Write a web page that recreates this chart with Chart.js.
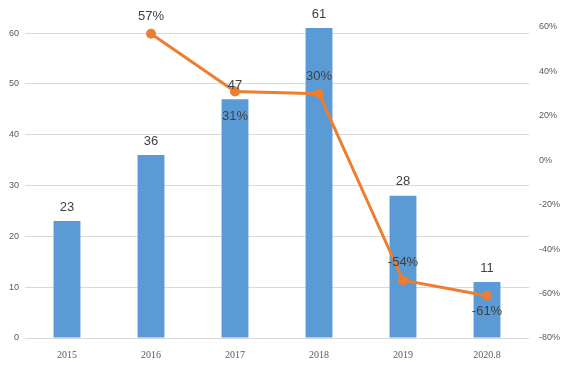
<!DOCTYPE html>
<html>
<head>
<meta charset="utf-8">
<script src="https://cdn.jsdelivr.net/npm/chart.js@4/dist/chart.umd.min.js"></script>
<style>
  html, body { margin: 0; padding: 0; background: #fff; }
  #wrap { width: 567px; height: 365px; }
</style>
</head>
<body>
<div id="wrap"><canvas id="c" width="567" height="365"></canvas></div>
<script>
const years = ['2015', '2016', '2017', '2018', '2019', '2020.8']
const counts = [23, 36, 47, 61, 28, 11]
const growth = [null, 57, 31, 30, -54, -61]
const countTicks = [0, 10, 20, 30, 40, 50, 60]

// vertical offset of each growth label from its point (negative = above)
const growthLabelDy = [0, -17, 25, -17, -18, 16]

const labelFont = '13px "Liberation Sans", Arial, sans-serif'
const labelColor = '#404040'

// draws value labels for bars and line points
const valueLabels = {
  id: 'valueLabels',
  afterDatasetsDraw(chart) {
    const ctx = chart.ctx
    ctx.save()
    ctx.font = labelFont
    ctx.fillStyle = labelColor
    ctx.textAlign = 'center'
    ctx.textBaseline = 'middle'
    chart.getDatasetMeta(1).data.forEach((bar, i) => {
      ctx.fillText(String(counts[i]), bar.x, bar.y - 14)
    })
    chart.getDatasetMeta(0).data.forEach((pt, i) => {
      if (growth[i] === null) return
      ctx.fillText(growth[i] + '%', pt.x, pt.y + growthLabelDy[i])
    })
    ctx.restore()
  }
}

new Chart(document.getElementById('c'), {
  data: {
    labels: years,
    datasets: [
      {
        type: 'line',
        label: 'growth',
        data: growth,
        yAxisID: 'y1',
        borderColor: '#ED7D31',
        backgroundColor: '#ED7D31',
        borderWidth: 3,
        pointRadius: 3.5,
        pointHoverRadius: 3.5,
        tension: 0,
        order: 0
      },
      {
        type: 'bar',
        label: 'count',
        data: counts,
        yAxisID: 'y',
        backgroundColor: '#5B9BD5',
        barPercentage: 0.32,
        categoryPercentage: 1,
        order: 1
      }
    ]
  },
  options: {
    responsive: false,
    animation: false,
    layout: { padding: { top: 27, left: 0, right: 0, bottom: 0 } },
    plugins: {
      legend: { display: false },
      tooltip: { enabled: false }
    },
    scales: {
      x: {
        grid: { display: false },
        border: { display: false },
        ticks: {
          color: '#595959',
          font: { size: 10, family: '"Liberation Serif", serif' },
          padding: 3
        },
        afterFit(s) { s.height = 27 }
      },
      y: {
        position: 'left',
        min: 0,
        max: 61.2,
        afterBuildTicks(s) { s.ticks = countTicks.map(v => ({ value: v })) },
        ticks: {
          color: '#595959',
          font: { size: 9, family: '"Liberation Sans", sans-serif' },
          padding: 6
        },
        grid: { color: '#d9d9d9', drawTicks: false },
        border: { display: false },
        afterFit(s) { s.width = 25 }
      },
      y1: {
        position: 'right',
        min: -80,
        max: 60,
        ticks: {
          stepSize: 20,
          color: '#595959',
          font: { size: 9, family: '"Liberation Sans", sans-serif' },
          padding: 10,
          callback: v => v + '%'
        },
        grid: { display: false, drawTicks: false },
        border: { display: false },
        afterFit(s) { s.width = 38 }
      }
    }
  },
  plugins: [valueLabels]
})
</script>
</body>
</html>
